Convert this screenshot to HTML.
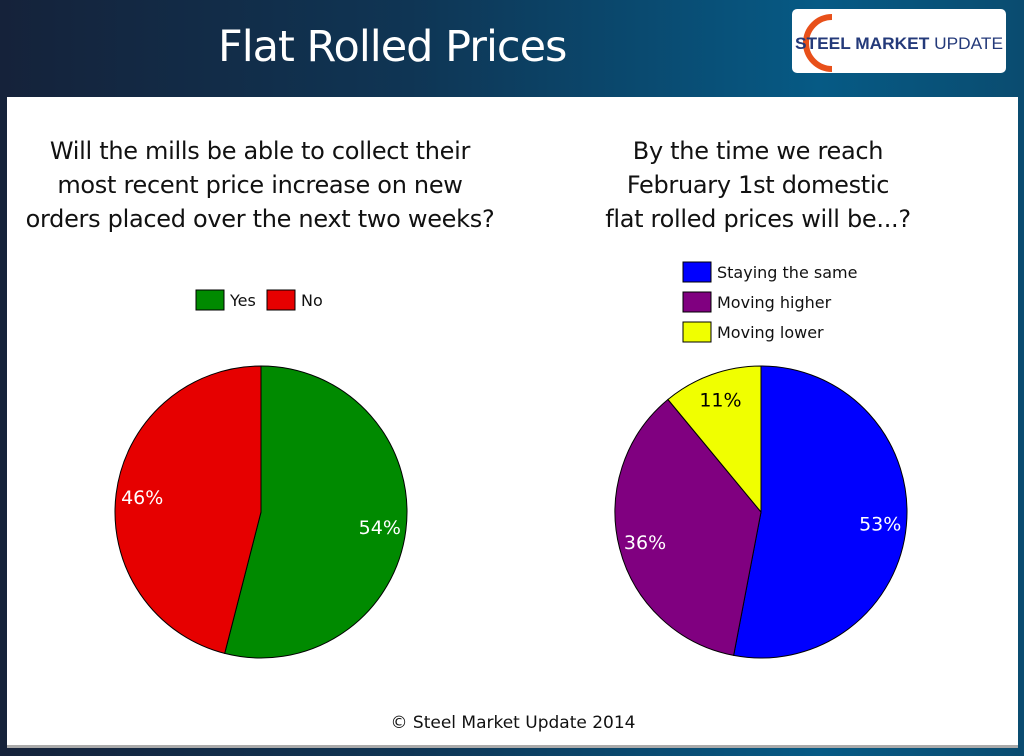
<!DOCTYPE html>
<html><head><meta charset="utf-8"><style>
body{margin:0;width:1024px;height:756px;overflow:hidden;background:linear-gradient(90deg,#15223a 0%,#0f3554 40%,#065a85 80%,#0a4c70 100%);font-family:"DejaVu Sans","Liberation Sans",sans-serif;position:relative}
#title{position:absolute;left:218px;top:22px;color:#fff;font-size:43px;letter-spacing:-1px}
#logo{position:absolute;left:792px;top:9px;width:214px;height:64px;background:#fff;border-radius:5px}
#panel{position:absolute;left:7px;top:97px;width:1011px;height:648px;background:#fff;border-bottom:3px solid #aaa}
.q{position:absolute;font-size:24px;text-align:center;color:#111;line-height:34px;letter-spacing:-0.3px}
</style></head><body>
<div id="title">Flat Rolled Prices</div>
<div id="logo">
<svg width="214" height="64"><path d="M40 8 A26 26 0 0 0 40 60" stroke="#e8501a" stroke-width="6" fill="none"/>
<text x="3" y="40" font-family="Liberation Sans" font-weight="bold" font-size="17" fill="#243a7a" textLength="208" lengthAdjust="spacingAndGlyphs">STEEL MARKET <tspan font-weight="normal">UPDATE</tspan></text></svg></div>
<div id="panel"></div>
<div class="q" style="left:10px;top:134px;width:500px">Will the mills be able to collect their<br>most recent price increase on new<br>orders placed over the next two weeks?</div>
<div class="q" style="left:510px;top:134px;width:496px">By the time we reach<br>February 1st domestic<br>flat rolled prices will be...?</div>
<svg id="svg" width="1024" height="756" style="position:absolute;left:0;top:0" font-family="DejaVu Sans, Liberation Sans, sans-serif">
<text x="513" y="728" text-anchor="middle" font-size="17" fill="#111">© Steel Market Update 2014</text>
</svg>
<script>
const leftCats=["Yes","No"];
const leftVals=[54,46];
const leftColors=["#008a00","#e60000"];
const rightCats=["Staying the same","Moving higher","Moving lower"];
const rightVals=[53,36,11];
const rightColors=["#0000ff","#800080","#f0ff00"];
const NS="http://www.w3.org/2000/svg";
const svg=document.getElementById('svg');
function pie(cx,cy,r,vals,cols,cats,prefix){
  const tot=vals.reduce((a,b)=>a+b,0);let a0=0;
  vals.forEach((v,i)=>{
    const a1=a0+v/tot*2*Math.PI;
    const x0=cx+r*Math.sin(a0),y0=cy-r*Math.cos(a0),x1=cx+r*Math.sin(a1),y1=cy-r*Math.cos(a1);
    const p=document.createElementNS(NS,'path');
    p.setAttribute('d',`M${cx},${cy}L${x0},${y0}A${r},${r} 0 ${a1-a0>Math.PI?1:0} 1 ${x1},${y1}Z`);
    p.setAttribute('fill',cols[i]);p.setAttribute('stroke','#000');p.setAttribute('stroke-width','1');
    
    
    svg.appendChild(p);
    const am=(a0+a1)/2,lr=r*0.82;
    const t=document.createElementNS(NS,'text');
    t.setAttribute('x',cx+lr*Math.sin(am));t.setAttribute('y',cy-lr*Math.cos(am)+7);
    t.setAttribute('text-anchor','middle');t.setAttribute('font-size','19');
    t.setAttribute('fill',cols[i]=="#f0ff00"?'#000':'#fff');
    t.textContent=v+'%';
    
    
    svg.appendChild(t);
    a0=a1;
  });
}
pie(261,512,146,leftVals,leftColors,leftCats,'left-pie');
pie(761,512,146,rightVals,rightColors,rightCats,'right-pie');
function legendItem(x,y,col,label,name){
  const r=document.createElementNS(NS,'rect');
  r.setAttribute('x',x);r.setAttribute('y',y);r.setAttribute('width',28);r.setAttribute('height',20);
  r.setAttribute('fill',col);r.setAttribute('stroke','#000');
  
  
  svg.appendChild(r);
  const t=document.createElementNS(NS,'text');
  t.setAttribute('x',x+34);t.setAttribute('y',y+16);t.setAttribute('font-size','16');t.setAttribute('fill','#111');
  t.textContent=label;
  
  
  svg.appendChild(t);
}
legendItem(196,290,leftColors[0],leftCats[0],'legend-yes');
legendItem(267,290,leftColors[1],leftCats[1],'legend-no');
rightCats.forEach((c,i)=>legendItem(683,262+i*30,rightColors[i],c,'legend-right-'+i));
</script>
</body></html>
